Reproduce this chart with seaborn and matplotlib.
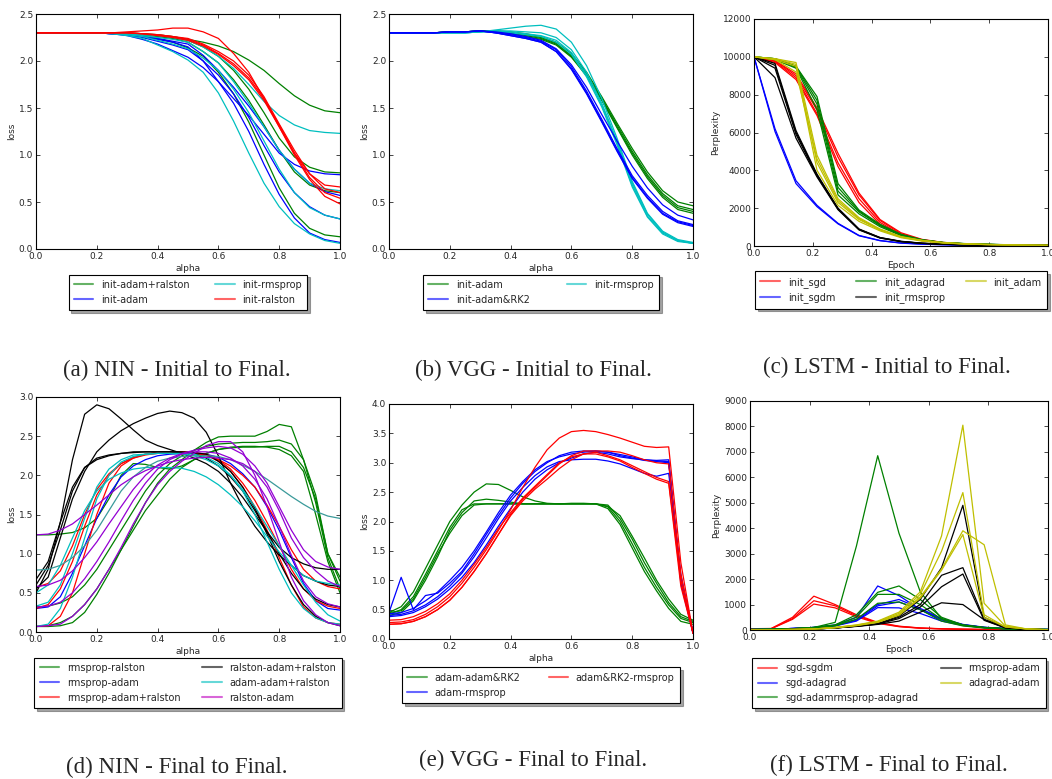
import seaborn as sns
import matplotlib.pyplot as plt
import numpy as np
from matplotlib.lines import Line2D

sns.set_style("ticks")
plt.rcParams.update({
    "xtick.direction": "in", "ytick.direction": "in",
    "xtick.top": True, "ytick.right": True,
    "xtick.labelsize": 6.5, "ytick.labelsize": 6.5,
    "axes.labelsize": 6.5, "axes.edgecolor": "black",
    "axes.linewidth": 0.8,
})
plt.rcParams["font.family"] = ["DejaVu Sans"]

# x grids
alpha21 = [i / 20 for i in range(21)]
alpha26 = [i / 25 for i in range(26)]
epoch15 = [i / 14 for i in range(15)]

# (a) NIN - initial to final
a_green = [
    [2.3, 2.3, 2.3, 2.3, 2.3, 2.3, 2.3, 2.29, 2.28, 2.26, 2.23, 2.2, 2.16, 2.1, 2.01, 1.9, 1.76, 1.63, 1.53, 1.47, 1.45],
    [2.3, 2.3, 2.3, 2.3, 2.3, 2.3, 2.29, 2.28, 2.27, 2.25, 2.22, 2.15, 2.05, 1.9, 1.7, 1.45, 1.18, 0.98, 0.87, 0.82, 0.81],
    [2.3, 2.3, 2.3, 2.3, 2.3, 2.3, 2.29, 2.28, 2.26, 2.24, 2.2, 2.1, 1.98, 1.8, 1.58, 1.32, 1.05, 0.82, 0.68, 0.62, 0.6],
    [2.3, 2.3, 2.3, 2.3, 2.3, 2.3, 2.29, 2.27, 2.24, 2.2, 2.14, 2.05, 1.88, 1.65, 1.35, 1.0, 0.65, 0.38, 0.22, 0.15, 0.13],
]
a_blue = [
    [2.3, 2.3, 2.3, 2.3, 2.3, 2.29, 2.28, 2.26, 2.23, 2.2, 2.15, 2.0, 1.78, 1.6, 1.42, 1.22, 1.02, 0.9, 0.83, 0.8, 0.79],
    [2.3, 2.3, 2.3, 2.3, 2.3, 2.29, 2.28, 2.26, 2.24, 2.21, 2.18, 2.06, 1.9, 1.72, 1.52, 1.3, 1.05, 0.85, 0.7, 0.61, 0.57],
    [2.3, 2.3, 2.3, 2.3, 2.3, 2.29, 2.28, 2.25, 2.21, 2.17, 2.12, 2.0, 1.85, 1.65, 1.4, 1.1, 0.82, 0.6, 0.45, 0.36, 0.32],
    [2.3, 2.3, 2.3, 2.3, 2.3, 2.29, 2.27, 2.23, 2.18, 2.11, 2.04, 1.93, 1.78, 1.55, 1.25, 0.9, 0.58, 0.33, 0.17, 0.1, 0.07],
]
a_cyan = [
    [2.3, 2.3, 2.3, 2.3, 2.3, 2.3, 2.29, 2.28, 2.27, 2.25, 2.22, 2.15, 2.05, 1.92, 1.75, 1.57, 1.42, 1.32, 1.26, 1.24, 1.23],
    [2.3, 2.3, 2.3, 2.3, 2.3, 2.3, 2.29, 2.27, 2.25, 2.23, 2.2, 2.1, 1.98, 1.78, 1.55, 1.3, 1.05, 0.85, 0.7, 0.64, 0.62],
    [2.3, 2.3, 2.3, 2.3, 2.3, 2.29, 2.28, 2.26, 2.22, 2.18, 2.13, 2.03, 1.9, 1.7, 1.45, 1.15, 0.85, 0.6, 0.44, 0.36, 0.32],
    [2.3, 2.3, 2.3, 2.3, 2.3, 2.29, 2.27, 2.24, 2.17, 2.1, 2.01, 1.88, 1.66, 1.36, 1.02, 0.7, 0.45, 0.27, 0.16, 0.09, 0.06],
]
a_red = [
    [2.3, 2.3, 2.3, 2.3, 2.3, 2.3, 2.31, 2.32, 2.33, 2.35, 2.35, 2.31, 2.24, 2.08, 1.88, 1.6, 1.3, 1.02, 0.8, 0.68, 0.66],
    [2.3, 2.3, 2.3, 2.3, 2.3, 2.3, 2.3, 2.29, 2.28, 2.26, 2.24, 2.18, 2.1, 2.0, 1.85, 1.62, 1.33, 1.05, 0.8, 0.64, 0.6],
    [2.3, 2.3, 2.3, 2.3, 2.3, 2.3, 2.3, 2.29, 2.28, 2.26, 2.23, 2.17, 2.08, 1.97, 1.82, 1.6, 1.32, 1.02, 0.76, 0.6, 0.54],
    [2.3, 2.3, 2.3, 2.3, 2.3, 2.3, 2.3, 2.29, 2.27, 2.25, 2.22, 2.16, 2.07, 1.95, 1.8, 1.58, 1.3, 1.0, 0.74, 0.56, 0.48],
]

# (b) VGG - initial to final
b_green = [
    [2.3, 2.3, 2.3, 2.3, 2.31, 2.31, 2.32, 2.32, 2.31, 2.29, 2.26, 2.2, 2.08, 1.88, 1.62, 1.34, 1.07, 0.82, 0.62, 0.5, 0.46],
    [2.3, 2.3, 2.3, 2.3, 2.31, 2.31, 2.32, 2.32, 2.3, 2.28, 2.25, 2.19, 2.06, 1.86, 1.6, 1.32, 1.04, 0.79, 0.59, 0.46, 0.42],
    [2.3, 2.3, 2.3, 2.3, 2.31, 2.31, 2.32, 2.31, 2.3, 2.27, 2.24, 2.18, 2.05, 1.85, 1.59, 1.3, 1.02, 0.77, 0.57, 0.44, 0.4],
    [2.3, 2.3, 2.3, 2.3, 2.31, 2.31, 2.32, 2.31, 2.29, 2.26, 2.23, 2.17, 2.04, 1.84, 1.58, 1.29, 1.0, 0.75, 0.55, 0.42, 0.38],
]
b_blue = [
    [2.3, 2.3, 2.3, 2.3, 2.31, 2.31, 2.32, 2.3, 2.27, 2.24, 2.2, 2.1, 1.92, 1.66, 1.36, 1.05, 0.76, 0.55, 0.38, 0.29, 0.25],
    [2.3, 2.3, 2.3, 2.3, 2.31, 2.31, 2.32, 2.3, 2.27, 2.24, 2.2, 2.1, 1.91, 1.65, 1.35, 1.04, 0.75, 0.54, 0.37, 0.28, 0.24],
    [2.3, 2.3, 2.3, 2.3, 2.31, 2.31, 2.32, 2.3, 2.28, 2.25, 2.21, 2.12, 1.94, 1.68, 1.38, 1.07, 0.78, 0.57, 0.4, 0.3, 0.26],
    [2.3, 2.3, 2.3, 2.3, 2.31, 2.31, 2.32, 2.31, 2.29, 2.26, 2.22, 2.13, 1.96, 1.72, 1.43, 1.15, 0.88, 0.65, 0.47, 0.36, 0.31],
]
b_cyan = [
    [2.3, 2.3, 2.3, 2.3, 2.3, 2.3, 2.31, 2.33, 2.35, 2.37, 2.38, 2.34, 2.2, 1.95, 1.6, 1.18, 0.72, 0.38, 0.19, 0.1, 0.07],
    [2.3, 2.3, 2.3, 2.3, 2.3, 2.3, 2.31, 2.32, 2.32, 2.31, 2.3, 2.25, 2.12, 1.88, 1.55, 1.15, 0.7, 0.37, 0.18, 0.09, 0.06],
    [2.3, 2.3, 2.3, 2.3, 2.3, 2.3, 2.31, 2.32, 2.31, 2.29, 2.27, 2.22, 2.09, 1.85, 1.53, 1.13, 0.68, 0.35, 0.17, 0.09, 0.06],
    [2.3, 2.3, 2.3, 2.3, 2.3, 2.3, 2.31, 2.31, 2.3, 2.28, 2.26, 2.2, 2.07, 1.83, 1.51, 1.11, 0.66, 0.34, 0.16, 0.08, 0.06],
]

# (c) LSTM - initial to final (perplexity)
c_sgd = [
    [10000, 9800, 9000, 7200, 4700, 2700, 1350, 650, 330, 180, 110, 80, 60, 45, 35],
    [10000, 9750, 8900, 7000, 4400, 2500, 1250, 600, 300, 170, 100, 75, 55, 40, 30],
    [10000, 9800, 9100, 7300, 4900, 2800, 1400, 700, 350, 190, 120, 85, 60, 45, 35],
    [10000, 9700, 8800, 6900, 4200, 2300, 1150, 560, 280, 160, 100, 70, 50, 40, 30],
]
c_sgdm = [
    [10000, 6200, 3450, 2150, 1200, 560, 290, 160, 100, 70, 50, 40, 30, 25, 20],
    [10000, 6050, 3300, 2080, 1170, 540, 280, 150, 95, 65, 45, 35, 30, 25, 20],
]
c_adagrad = [
    [10000, 9900, 9500, 7900, 3300, 1900, 1150, 620, 330, 190, 130, 95, 70, 50, 40],
    [10000, 9900, 9450, 7500, 2900, 1800, 1080, 580, 310, 180, 120, 90, 65, 50, 40],
    [10000, 9850, 9400, 7200, 2700, 1700, 1020, 550, 300, 170, 115, 85, 60, 45, 35],
    [10000, 9900, 9500, 7700, 3100, 1850, 1100, 600, 320, 185, 125, 90, 65, 50, 40],
]
c_rmsprop = [
    [10000, 9650, 6100, 3800, 2000, 900, 450, 250, 150, 100, 70, 55, 45, 35, 30],
    [10000, 9550, 6000, 3750, 1980, 880, 440, 240, 145, 95, 65, 50, 40, 35, 30],
    [10000, 9400, 5900, 3700, 1950, 870, 430, 235, 140, 95, 65, 50, 40, 35, 30],
    [10000, 8900, 5700, 3650, 1920, 850, 420, 230, 140, 90, 60, 50, 40, 30, 25],
]
c_adam = [
    [10000, 9900, 9700, 4800, 2500, 1500, 900, 500, 300, 180, 120, 85, 60, 45, 35],
    [10000, 9900, 9600, 4400, 2300, 1400, 850, 470, 280, 170, 110, 80, 60, 45, 35],
    [10000, 9850, 9500, 4000, 2150, 1300, 800, 440, 260, 160, 105, 75, 55, 40, 30],
    [10000, 9850, 9200, 4600, 2400, 1450, 870, 480, 290, 175, 115, 80, 60, 45, 35],
]

# (d) NIN - final to final
d_green = [
    [0.07, 0.07, 0.08, 0.12, 0.25, 0.48, 0.75, 1.05, 1.35, 1.65, 1.9, 2.08, 2.2, 2.32, 2.42, 2.49, 2.5, 2.5, 2.5, 2.56, 2.65, 2.62, 2.2, 1.65, 0.95, 0.55],
    [0.32, 0.33, 0.37, 0.45, 0.6, 0.8, 1.05, 1.3, 1.55, 1.8, 2.0, 2.15, 2.25, 2.32, 2.37, 2.4, 2.41, 2.42, 2.42, 2.43, 2.45, 2.4, 2.2, 1.75, 1.0, 0.65],
    [1.24, 1.24, 1.25, 1.27, 1.33, 1.45, 1.7, 2.0, 2.15, 2.14, 2.1, 2.08, 2.12, 2.2, 2.28, 2.33, 2.35, 2.36, 2.36, 2.37, 2.37, 2.3, 2.1, 1.7, 1.0, 0.7],
    [0.07, 0.08, 0.12, 0.2, 0.35, 0.55, 0.8, 1.05, 1.3, 1.55, 1.75, 1.95, 2.1, 2.2, 2.28, 2.33, 2.36, 2.37, 2.37, 2.36, 2.33, 2.25, 2.05, 1.5, 0.9, 0.5],
]
d_blue = [
    [0.3, 0.32, 0.45, 0.75, 1.1, 1.45, 1.75, 1.98, 2.12, 2.2, 2.25, 2.27, 2.28, 2.28, 2.27, 2.23, 2.15, 2.02, 1.85, 1.6, 1.3, 0.95, 0.62, 0.4, 0.3, 0.28],
]
d_red = [
    [0.07, 0.08, 0.2, 0.5, 1.0, 1.5, 1.9, 2.12, 2.22, 2.27, 2.29, 2.3, 2.3, 2.29, 2.26, 2.18, 2.05, 1.85, 1.6, 1.3, 0.95, 0.6, 0.32, 0.18, 0.12, 0.1],
    [0.57, 0.62, 0.78, 1.1, 1.5, 1.82, 2.02, 2.15, 2.22, 2.26, 2.28, 2.29, 2.29, 2.28, 2.25, 2.2, 2.12, 2.0, 1.85, 1.62, 1.35, 1.05, 0.8, 0.65, 0.58, 0.55],
    [0.3, 0.35, 0.55, 0.9, 1.35, 1.75, 2.0, 2.15, 2.23, 2.27, 2.29, 2.3, 2.3, 2.29, 2.27, 2.2, 2.08, 1.9, 1.68, 1.4, 1.1, 0.8, 0.55, 0.4, 0.33, 0.3],
]
d_black = [
    [0.5, 0.8, 1.4, 2.2, 2.78, 2.9, 2.85, 2.72, 2.58, 2.45, 2.38, 2.33, 2.28, 2.22, 2.15, 2.05, 1.9, 1.72, 1.5, 1.28, 1.08, 0.95, 0.87, 0.82, 0.8, 0.8],
    [0.55, 0.7, 1.2, 1.7, 2.05, 2.3, 2.45, 2.57, 2.66, 2.73, 2.79, 2.82, 2.8, 2.73, 2.55, 2.25, 1.9, 1.6, 1.35, 1.15, 0.98, 0.85, 0.72, 0.65, 0.6, 0.58],
    [0.67, 0.9, 1.4, 1.85, 2.1, 2.2, 2.25, 2.28, 2.29, 2.3, 2.3, 2.3, 2.3, 2.29, 2.27, 2.18, 2.05, 1.85, 1.58, 1.25, 0.9, 0.6, 0.35, 0.2, 0.12, 0.08],
    [0.6, 0.85, 1.3, 1.8, 2.1, 2.22, 2.26, 2.28, 2.3, 2.3, 2.3, 2.3, 2.29, 2.28, 2.22, 2.12, 1.98, 1.8, 1.55, 1.28, 1.0, 0.75, 0.55, 0.42, 0.35, 0.32],
]
d_cyan = [
    [0.33, 0.38, 0.6, 1.0, 1.45, 1.85, 2.08, 2.2, 2.26, 2.27, 2.28, 2.28, 2.27, 2.25, 2.2, 2.12, 2.0, 1.82, 1.6, 1.35, 1.1, 0.85, 0.6, 0.38, 0.22, 0.14],
    [0.5, 0.6, 0.85, 1.2, 1.55, 1.8, 1.95, 2.03, 2.08, 2.1, 2.1, 2.1, 2.09, 2.05, 1.98, 1.88, 1.75, 1.6, 1.42, 1.22, 1.02, 0.85, 0.72, 0.65, 0.62, 0.6],
    [0.07, 0.1, 0.3, 0.7, 1.2, 1.7, 2.0, 2.17, 2.24, 2.27, 2.28, 2.28, 2.28, 2.27, 2.23, 2.15, 2.0, 1.8, 1.5, 1.15, 0.8, 0.5, 0.3, 0.18, 0.12, 0.1],
]
d_teal = [
    [0.79, 0.8, 0.85, 0.95, 1.1, 1.3, 1.55, 1.8, 1.98, 2.1, 2.18, 2.22, 2.24, 2.25, 2.25, 2.24, 2.2, 2.13, 2.05, 1.95, 1.84, 1.73, 1.63, 1.54, 1.48, 1.45],
]
d_purple = [
    [1.24, 1.25, 1.3, 1.38, 1.5, 1.62, 1.75, 1.88, 1.98, 2.06, 2.12, 2.17, 2.2, 2.22, 2.23, 2.22, 2.2, 2.15, 2.05, 1.85, 1.55, 1.2, 0.95, 0.78, 0.65, 0.58],
    [0.58, 0.6, 0.66, 0.78, 0.95, 1.15, 1.38, 1.6, 1.82, 2.0, 2.13, 2.22, 2.28, 2.32, 2.35, 2.37, 2.35, 2.27, 2.12, 1.9, 1.6, 1.3, 1.05, 0.9, 0.83, 0.8],
    [0.07, 0.08, 0.1, 0.2, 0.35, 0.55, 0.8, 1.08, 1.38, 1.65, 1.88, 2.05, 2.18, 2.28, 2.38, 2.43, 2.43, 2.3, 2.0, 1.6, 1.15, 0.7, 0.4, 0.22, 0.12, 0.08],
    [0.32, 0.33, 0.38, 0.5, 0.68, 0.9, 1.15, 1.42, 1.68, 1.9, 2.08, 2.2, 2.27, 2.3, 2.3, 2.28, 2.22, 2.12, 1.95, 1.7, 1.35, 0.98, 0.65, 0.45, 0.36, 0.32],
]

# (e) VGG - final to final
e_green = [
    [0.42, 0.5, 0.72, 1.1, 1.5, 1.9, 2.2, 2.3, 2.3, 2.3, 2.3, 2.3, 2.3, 2.3, 2.3, 2.3, 2.3, 2.3, 2.28, 2.05, 1.7, 1.3, 0.95, 0.62, 0.38, 0.3],
    [0.45, 0.55, 0.8, 1.2, 1.6, 2.0, 2.28, 2.5, 2.64, 2.63, 2.53, 2.42, 2.35, 2.31, 2.3, 2.3, 2.3, 2.3, 2.25, 2.0, 1.62, 1.22, 0.88, 0.58, 0.35, 0.28],
    [0.4, 0.45, 0.65, 1.0, 1.4, 1.85, 2.15, 2.35, 2.38, 2.36, 2.33, 2.3, 2.3, 2.3, 2.3, 2.3, 2.3, 2.3, 2.22, 1.95, 1.55, 1.15, 0.82, 0.52, 0.3, 0.25],
    [0.45, 0.48, 0.68, 1.05, 1.45, 1.8, 2.1, 2.28, 2.3, 2.3, 2.3, 2.3, 2.3, 2.3, 2.3, 2.31, 2.31, 2.3, 2.26, 2.1, 1.75, 1.38, 1.0, 0.68, 0.42, 0.32],
]
e_blue = [
    [0.45, 1.05, 0.5, 0.74, 0.78, 0.95, 1.15, 1.45, 1.78, 2.1, 2.4, 2.65, 2.85, 3.0, 3.12, 3.18, 3.2, 3.2, 3.18, 3.14, 3.1, 3.05, 3.03, 3.02, 0.95, 0.1],
    [0.4, 0.42, 0.48, 0.58, 0.72, 0.9, 1.12, 1.4, 1.72, 2.05, 2.35, 2.58, 2.78, 2.93, 3.02, 3.05, 3.06, 3.06, 3.03, 2.98, 2.9, 2.82, 2.77, 2.82, 1.1, 0.1],
    [0.38, 0.4, 0.45, 0.55, 0.68, 0.85, 1.05, 1.3, 1.6, 1.92, 2.22, 2.5, 2.72, 2.88, 3.0, 3.08, 3.15, 3.18, 3.15, 3.1, 3.07, 3.05, 3.04, 3.05, 1.0, 0.1],
    [0.43, 0.45, 0.52, 0.65, 0.8, 1.0, 1.22, 1.5, 1.82, 2.15, 2.45, 2.68, 2.88, 3.02, 3.1, 3.15, 3.18, 3.2, 3.18, 3.12, 3.08, 3.04, 3.02, 3.0, 1.05, 0.12],
]
e_red = [
    [0.28, 0.29, 0.33, 0.42, 0.55, 0.72, 0.95, 1.22, 1.52, 1.85, 2.2, 2.58, 2.92, 3.22, 3.42, 3.53, 3.55, 3.53, 3.48, 3.42, 3.35, 3.28, 3.26, 3.27, 1.3, 0.1],
    [0.25, 0.26, 0.3, 0.38, 0.5, 0.66, 0.88, 1.15, 1.45, 1.78, 2.1, 2.35, 2.55, 2.72, 2.9, 3.05, 3.15, 3.18, 3.12, 3.05, 2.95, 2.85, 2.75, 2.68, 1.0, 0.1],
    [0.25, 0.26, 0.3, 0.38, 0.5, 0.66, 0.88, 1.15, 1.45, 1.78, 2.12, 2.38, 2.58, 2.78, 2.98, 3.12, 3.2, 3.2, 3.2, 3.18, 3.12, 3.05, 3.0, 2.98, 1.1, 0.1],
    [0.32, 0.33, 0.38, 0.47, 0.6, 0.77, 1.0, 1.27, 1.56, 1.88, 2.15, 2.4, 2.6, 2.8, 3.0, 3.1, 3.15, 3.15, 3.1, 3.03, 2.92, 2.82, 2.72, 2.65, 0.9, 0.1],
]

# (f) LSTM - final to final (perplexity)
f_red = [
    [50, 60, 500, 1330, 1000, 600, 300, 150, 80, 50, 30, 20, 15, 10, 10],
    [40, 55, 450, 1150, 950, 560, 280, 140, 75, 45, 30, 20, 15, 10, 10],
    [40, 50, 420, 1020, 870, 520, 260, 130, 70, 45, 30, 20, 15, 10, 10],
]
f_blue = [
    [20, 30, 60, 100, 200, 500, 1730, 1350, 800, 400, 200, 100, 50, 30, 20],
    [20, 30, 60, 100, 180, 420, 1000, 1200, 850, 450, 220, 110, 60, 30, 20],
    [20, 30, 60, 100, 170, 380, 950, 1100, 800, 420, 210, 100, 55, 30, 20],
    [20, 30, 60, 90, 160, 350, 880, 870, 650, 350, 180, 90, 50, 30, 20],
]
f_green = [
    [20, 30, 50, 100, 300, 3300, 6850, 3800, 1500, 450, 200, 100, 50, 30, 20],
    [20, 30, 50, 100, 200, 600, 1480, 1730, 1200, 500, 200, 100, 50, 30, 20],
    [20, 30, 50, 100, 180, 500, 1400, 1400, 1000, 420, 180, 90, 50, 30, 20],
    [20, 30, 50, 90, 160, 420, 1050, 1100, 800, 350, 160, 80, 45, 30, 20],
]
f_black = [
    [10, 10, 20, 40, 80, 150, 250, 550, 1200, 2450, 4900, 500, 100, 30, 10],
    [10, 10, 20, 40, 80, 150, 240, 500, 1000, 2150, 2450, 420, 90, 30, 10],
    [10, 10, 20, 40, 80, 150, 230, 450, 900, 1700, 2200, 380, 80, 30, 10],
    [10, 10, 20, 40, 80, 140, 220, 350, 700, 1070, 1000, 400, 90, 30, 10],
]
f_yellow = [
    [10, 10, 20, 40, 100, 200, 350, 700, 1500, 3700, 8050, 1050, 150, 40, 10],
    [10, 10, 20, 40, 100, 190, 330, 650, 1400, 3100, 5400, 600, 120, 40, 10],
    [10, 10, 20, 40, 90, 180, 310, 600, 1300, 2400, 3900, 3350, 200, 40, 10],
    [10, 10, 20, 40, 90, 170, 300, 580, 1250, 2350, 3750, 500, 120, 40, 10],
]

G, B, C, R, K, Y, M = "g", "b", "c", "r", "k", "y", "m"
VIOLET, TEAL = "#9400d3", "#3a9a9a"


def draw(ax, x, groups):
    for color, curves in groups:
        for vals in curves:
            sns.lineplot(x=x, y=vals, color=color, lw=0.9, ax=ax, legend=False)


def style(ax, ymax, ystep, ylabel, xlabel, yfmt="{:.1f}"):
    ax.set_xlim(0, 1)
    ax.set_ylim(0, ymax)
    ax.set_xticks(np.arange(0, 1.01, 0.2))
    ax.set_xticklabels(["{:.1f}".format(v) for v in np.arange(0, 1.01, 0.2)])
    yt = np.arange(0, ymax + ystep / 2, ystep)
    ax.set_yticks(yt)
    ax.set_yticklabels([yfmt.format(v) for v in yt])
    ax.set_ylabel(ylabel, labelpad=2)
    ax.set_xlabel(xlabel, labelpad=2)
    ax.tick_params(length=3, width=0.6, pad=2)


def legend(ax, entries, y, ncol=2, colsp=2.6):
    handles = [Line2D([], [], color=c, lw=1.5, alpha=0.6) for c, _ in entries]
    labels = [l for _, l in entries]
    leg = ax.legend(handles, labels, loc="upper center", bbox_to_anchor=(0.5, y),
                    ncol=ncol, fontsize=7, frameon=True, shadow=True,
                    fancybox=False, handlelength=2.0, columnspacing=colsp,
                    borderpad=0.55, labelspacing=0.5)
    leg.get_frame().set_edgecolor("black")
    leg.get_frame().set_linewidth(0.8)


W, H = 1052, 779
fig = plt.figure(figsize=(W / 100, H / 100), dpi=100)


def axes_px(l, t, r, b):
    return fig.add_axes([l / W, 1 - b / H, (r - l) / W, (b - t) / H])


ax_a = axes_px(36, 14, 340, 249)
ax_b = axes_px(389, 14, 693, 249)
ax_c = axes_px(754, 19, 1048, 246)
ax_d = axes_px(36, 397, 340, 632)
ax_e = axes_px(389, 404, 693, 639)
ax_f = axes_px(750, 401, 1048, 630)

draw(ax_a, alpha21, [(G, a_green), (B, a_blue), (C, a_cyan), (R, a_red)])
style(ax_a, 2.5, 0.5, "loss", "alpha")
legend(ax_a, [(G, "init-adam+ralston"), (B, "init-adam"), (C, "init-rmsprop"), (R, "init-ralston")], -0.088)

draw(ax_b, alpha21, [(G, b_green), (C, b_cyan), (B, b_blue)])
style(ax_b, 2.5, 0.5, "loss", "alpha")
legend(ax_b, [(G, "init-adam"), (B, "init-adam&RK2"), (C, "init-rmsprop")], -0.088, colsp=3.8)

draw(ax_c, epoch15, [(R, c_sgd), (B, c_sgdm), (G, c_adagrad), (K, c_rmsprop), (Y, c_adam)])
style(ax_c, 12000, 2000, "Perplexity", "Epoch", "{:.0f}")
legend(ax_c, [(R, "init_sgd"), (B, "init_sgdm"), (G, "init_adagrad"), (K, "init_rmsprop"), (Y, "init_adam")], -0.09, ncol=3, colsp=2.2)

draw(ax_d, alpha26, [(G, d_green), (B, d_blue), (R, d_red), (K, d_black), (C, d_cyan), (TEAL, d_teal), (VIOLET, d_purple)])
style(ax_d, 3.0, 0.5, "loss", "alpha")
legend(ax_d, [(G, "rmsprop-ralston"), (B, "rmsprop-adam"), (R, "rmsprop-adam+ralston"),
              (K, "ralston-adam+ralston"), (C, "adam-adam+ralston"), (M, "ralston-adam")], -0.088, colsp=2.2)

draw(ax_e, alpha26, [(G, e_green), (B, e_blue), (R, e_red)])
style(ax_e, 4.0, 0.5, "loss", "alpha")
legend(ax_e, [(G, "adam-adam&RK2"), (B, "adam-rmsprop"), (R, "adam&RK2-rmsprop")], -0.1, colsp=2.9)

draw(ax_f, epoch15, [(R, f_red), (B, f_blue), (G, f_green), (K, f_black), (Y, f_yellow)])
style(ax_f, 9000, 1000, "Perplexity", "Epoch", "{:.0f}")
legend(ax_f, [(R, "sgd-sgdm"), (B, "sgd-adagrad"), (G, "sgd-adamrmsprop-adagrad"),
              (K, "rmsprop-adam"), (Y, "adagrad-adam")], -0.1, colsp=2.4)

captions = [
    (177, 370, "(a) NIN - Initial to Final."),
    (533, 370, "(b) VGG - Initial to Final."),
    (887, 367, "(c) LSTM - Initial to Final."),
    (177, 767, "(d) NIN - Final to Final."),
    (533, 760, "(e) VGG - Final to Final."),
    (889, 765, "(f) LSTM - Final to Final."),
]
for cx, cy, txt in captions:
    fig.text(cx / W, 1 - cy / H, txt, ha="center", va="center",
             family=["Liberation Serif"], fontsize=16.5)

fig.savefig("out.png", dpi=100)
